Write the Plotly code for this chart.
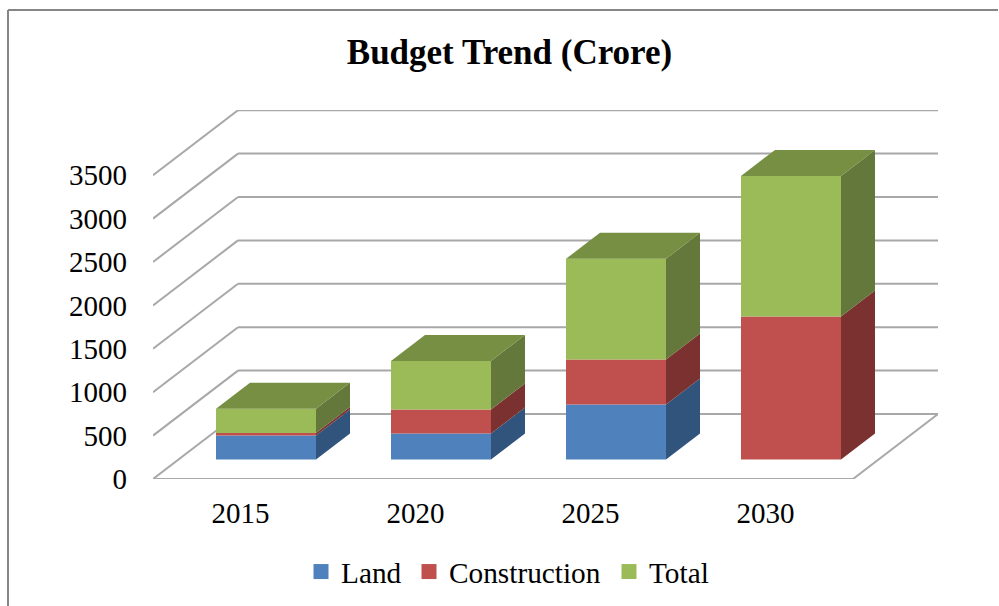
"""Budget trend chart: stacked bars with an oblique 3D look."""
import plotly.graph_objects as go

years = ["2015", "2020", "2025", "2030"]
land = [276, 300, 634, 0]
construction = [30, 276, 518, 1647]
total = [278, 560, 1160, 1620]
y_ticks = [0, 500, 1000, 1500, 2000, 2500, 3000, 3500]

names = ["Land", "Construction", "Total"]
front_colors = ["#4F81BD", "#C0504D", "#9BBB59"]
side_colors = ["#31547D", "#7B3130", "#63783A"]
top_color = "#768F42"
grid_color = "#A8A8A8"
font_family = "Liberation Serif"

# plot area in pixels; one category is 175px wide, one value unit 0.0868px high
LEFT, RIGHT, TOP, BOTTOM = 153, 61, 110, 127
CAT_PX, VAL_PX = 175, 0.0868
DEPTH_X = 85 / CAT_PX
DEPTH_Y = 65 / VAL_PX
BAR_W = 100 / CAT_PX
NEAR, FAR = 0.3, 0.7  # bar depth as a share of the floor depth
PLOT_W, PLOT_H = 999 - LEFT - RIGHT, 606 - TOP - BOTTOM


def project(x, y, depth):
    """Oblique projection of a point lying at the given depth."""
    return x + depth * DEPTH_X, y + depth * DEPTH_Y


def polygon(points):
    xs, ys = zip(*[project(*p) for p in points])
    return list(xs) + [xs[0]], list(ys) + [ys[0]]


fig = go.Figure()

# front faces
cum = [0] * len(years)
bottoms = []
for name, values, color in zip(names, [land, construction, total], front_colors):
    bottoms.append(list(cum))
    fig.add_bar(
        x=[project(i, 0, NEAR)[0] for i in range(len(years))],
        y=values,
        base=[c + NEAR * DEPTH_Y for c in cum],
        width=BAR_W,
        marker=dict(color=color, line_width=0),
        showlegend=False,
        hoverinfo="skip",
    )
    cum = [c + v for c, v in zip(cum, values)]

# side faces
for values, base, color in zip([land, construction, total], bottoms, side_colors):
    for i, (v, b) in enumerate(zip(values, base)):
        if v == 0:
            continue
        r = i + BAR_W / 2
        xs, ys = polygon([(r, b, NEAR), (r, b, FAR), (r, b + v, FAR), (r, b + v, NEAR)])
        fig.add_scatter(x=xs, y=ys, mode="lines", fill="toself", fillcolor=color,
                        line=dict(width=0, color=color), showlegend=False, hoverinfo="skip")

# top faces
for i, h in enumerate(cum):
    l, r = i - BAR_W / 2, i + BAR_W / 2
    xs, ys = polygon([(l, h, NEAR), (r, h, NEAR), (r, h, FAR), (l, h, FAR)])
    fig.add_scatter(x=xs, y=ys, mode="lines", fill="toself", fillcolor=top_color,
                    line=dict(width=0, color=top_color), showlegend=False, hoverinfo="skip")

# legend swatches, one legend per entry so each can sit where the original has it
legend_ids = ["legend", "legend2", "legend3"]
legend_left = [301, 409, 609]  # px
for name, color, lid in zip(names, front_colors, legend_ids):
    fig.add_scatter(x=[None], y=[None], mode="markers", name=name, legend=lid,
                    marker=dict(symbol="square", size=15, color=color))
legends = {
    lid: dict(
        x=(px - LEFT) / PLOT_W,
        xanchor="left",
        y=-67 / PLOT_H,
        yanchor="top",
        font=dict(size=29.3),
        bgcolor="rgba(0,0,0,0)",
    )
    for lid, px in zip(legend_ids, legend_left)
}

# walls and floor, under the bars
x0, x1 = -0.5, len(years) - 0.5
line = dict(color=grid_color, width=2)
for t in y_ticks:
    bx, by = project(x0, t, 1)
    fig.add_shape(type="line", x0=x0, y0=t, x1=bx, y1=by, line=line, layer="below")
    fig.add_shape(type="line", x0=bx, y0=by, x1=project(x1, t, 1)[0], y1=by, line=line, layer="below")
fig.add_shape(type="line", x0=x0, y0=0, x1=x1, y1=0, line=line, layer="below")
fx, fy = project(x1, 0, 1)
fig.add_shape(type="line", x0=x1, y0=0, x1=fx, y1=fy, line=line, layer="below")

# outer frame, open on the right and at the bottom
frame = dict(color="#868686", width=2)
frame_x = (8 - LEFT) / PLOT_W
frame_y = (606 - BOTTOM - 10) / PLOT_H
fig.add_shape(type="line", xref="paper", yref="paper", x0=frame_x, y0=frame_y,
              x1=(998 - LEFT) / PLOT_W, y1=frame_y, line=frame)
fig.add_shape(type="line", xref="paper", yref="paper", x0=frame_x, y0=frame_y,
              x1=frame_x, y1=-BOTTOM / PLOT_H, line=frame)

fig.update_layout(
    width=999,
    height=606,
    margin=dict(l=LEFT, r=RIGHT, t=TOP, b=BOTTOM, pad=0, autoexpand=False),
    barmode="overlay",
    paper_bgcolor="white",
    plot_bgcolor="rgba(0,0,0,0)",
    font=dict(family=font_family, size=29, color="black"),
    title=dict(
        text="<b>Budget Trend (Crore)</b>",
        font=dict(size=35, family=font_family),
        x=509.5 / 999,
        xanchor="center",
        y=1 - 52 / 606,
        yanchor="middle",
    ),
    **legends,
)
fig.update_xaxes(
    range=[x0, x1 + DEPTH_X],
    tickmode="array",
    tickvals=list(range(len(years))),
    ticktext=years,
    showgrid=False,
    zeroline=False,
    showline=False,
    ticks="",
    ticklabelstandoff=14,
)
fig.update_yaxes(
    range=[0, PLOT_H / VAL_PX],
    tickmode="array",
    tickvals=y_ticks,
    showgrid=False,
    zeroline=False,
    showline=False,
    ticks="",
    ticklabelstandoff=25,
)

fig.write_html("out.html", config={"displayModeBar": False},
               post_script="document.body.style.margin = '0';")
